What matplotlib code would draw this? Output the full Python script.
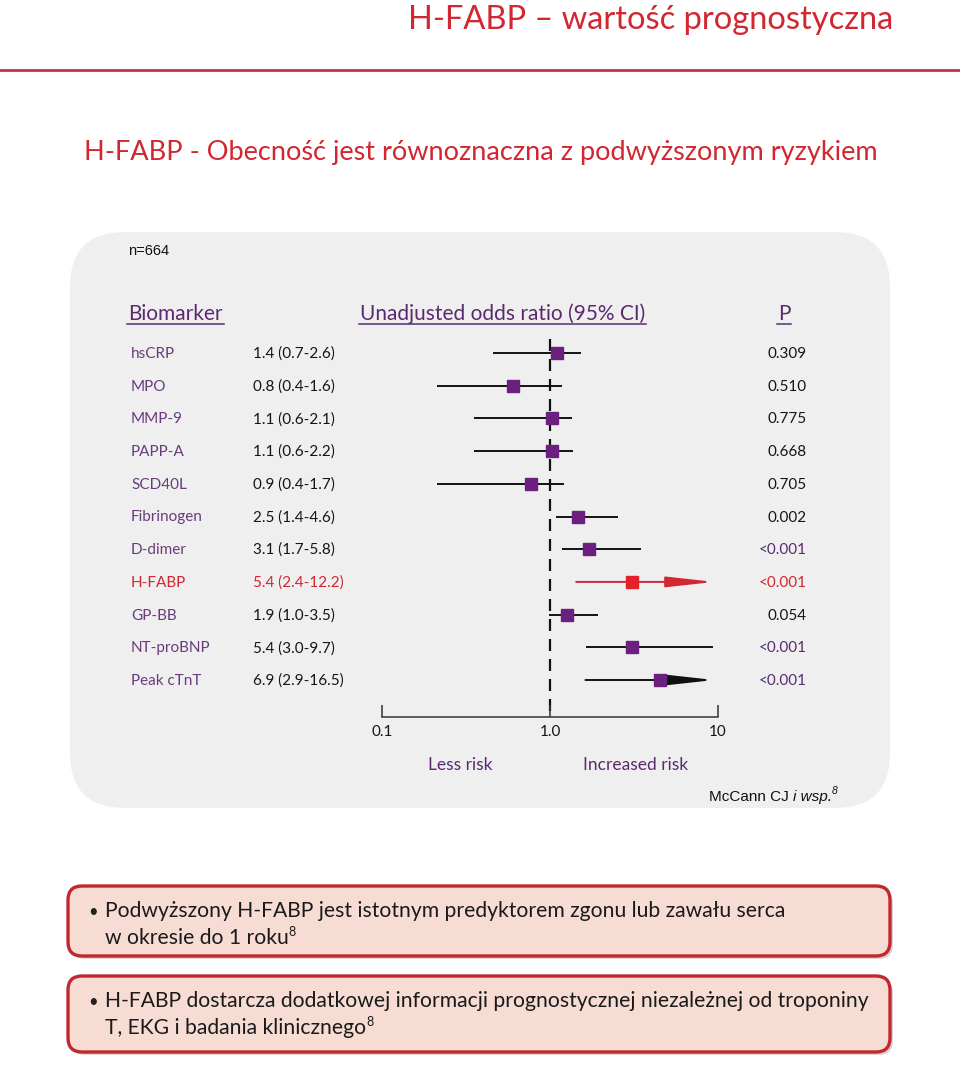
import numpy as np
import matplotlib
matplotlib.use("Agg")
import matplotlib.pyplot as plt
from matplotlib.patches import FancyBboxPatch

# data
biomarkers = ["hsCRP", "MPO", "MMP-9", "PAPP-A", "SCD40L", "Fibrinogen",
              "D-dimer", "H-FABP", "GP-BB", "NT-proBNP", "Peak cTnT"]
odds = [1.4, 0.8, 1.1, 1.1, 0.9, 2.5, 3.1, 5.4, 1.9, 5.4, 6.9]
ci_low = [0.7, 0.4, 0.6, 0.6, 0.4, 1.4, 1.7, 2.4, 1.0, 3.0, 2.9]
ci_high = [2.6, 1.6, 2.1, 2.2, 1.7, 4.6, 5.8, 12.2, 3.5, 9.7, 16.5]
p_values = ["0.309", "0.510", "0.775", "0.668", "0.705", "0.002",
            "<0.001", "<0.001", "0.054", "<0.001", "<0.001"]
highlight = "H-FABP"
x_ticks = [0.1, 1.0, 10]
x_tick_labels = ["0.1", "1.0", "10"]
n_patients = 664

RED = "#d22630"
PURPLE = "#5b2a6e"
LABEL = "#6a3b7c"
SQUARE = "#6b1f7f"
FONT = ["Lato", "DejaVu Sans"]

fig = plt.figure(figsize=(9.6, 10.69), dpi=100)
bg = fig.add_axes([0, 0, 1, 1])
bg.set_xlim(0, 960)
bg.set_ylim(1069, 0)
bg.axis("off")
r = fig.canvas.get_renderer()


def runs(x, y, parts, **kw):
    # draw text pieces one after another on a line
    for txt, extra in parts:
        opts = dict(kw)
        opts.update(extra)
        dy = opts.pop("dy", 0)
        t = bg.text(x, y + dy, txt, va="baseline", **opts)
        x += t.get_window_extent(r).width
    return x


def underlined(x, y, txt, ha="left", **kw):
    t = bg.text(x, y, txt, va="baseline", ha=ha, **kw)
    bb = t.get_window_extent(r)
    x0 = bb.x0
    bg.plot([x0 - 1, x0 + bb.width + 1], [y + 4, y + 4], color=kw.get("color"), lw=1.1)


# title + rule
bg.text(893, 29, "H-FABP – wartość prognostyczna", ha="right", va="baseline",
        color=RED, fontsize=23.5, family=FONT)
bg.plot([0, 960], [70, 70], color="#c8303c", lw=2)
bg.text(84, 160, "H-FABP - Obecność jest równoznaczna z podwyższonym ryzykiem",
        ha="left", va="baseline", color=RED, fontsize=19.5, family=FONT)

# grey panel
bg.add_patch(FancyBboxPatch((70, 232), 820, 576, boxstyle="round,pad=0,rounding_size=55",
                            fc="#efefef", ec="none"))
bg.text(128, 255, "n=%d" % n_patients, fontsize=10.5, family="Liberation Sans",
        va="baseline", color="#111111")

underlined(128, 320, "Biomarker", color=PURPLE, fontsize=15, family=FONT)
underlined(360, 320, "Unadjusted odds ratio (95% CI)", color=PURPLE, fontsize=15, family=FONT)
underlined(784, 320, "P", ha="center", color=PURPLE, fontsize=15, family=FONT)

row_y = [353 + i * 32.7 for i in range(len(biomarkers))]
for i, name in enumerate(biomarkers):
    hot = name == highlight
    y = row_y[i] + 5
    bg.text(131, y, name, color=RED if hot else LABEL, fontsize=11, family=FONT, va="baseline")
    bg.text(253, y, "%.1f (%.1f-%.1f)" % (odds[i], ci_low[i], ci_high[i]),
            color=RED if hot else "#151515", fontsize=11, family=FONT, va="baseline")
    pc = RED if hot else (PURPLE if p_values[i].startswith("<") else "#151515")
    bg.text(807, y, p_values[i], color=pc, fontsize=11, family=FONT, va="baseline", ha="right")

# forest plot axes, piecewise linear within each decade
def fwd(v):
    v = np.asarray(v, dtype=float)
    return np.where(v < 1, (v - 1) / 0.9, (v - 1) / 9.0)


def inv(v):
    v = np.asarray(v, dtype=float)
    return np.where(v < 0, 1 + 0.9 * v, 1 + 9.0 * v)


W, H = 960.0, 1069.0
ax = fig.add_axes([382 / W, 1 - 717 / H, 336 / W, (717 - 337) / H])
ax.set_facecolor("none")
ax.set_xscale("function", functions=(fwd, inv))
ax.set_xlim(0.1, 10)
top = -0.49
bottom = (717 - 353) / 32.7
ax.set_ylim(bottom, top)
for s in ["top", "left", "right"]:
    ax.spines[s].set_visible(False)
ax.spines["bottom"].set_color("#333333")
ax.spines["bottom"].set_linewidth(1.1)
ax.set_yticks([])
ax.set_xticks(x_ticks)
ax.set_xticklabels(x_tick_labels, family=FONT, fontsize=11, color="#151515")
ax.xaxis.set_minor_locator(matplotlib.ticker.NullLocator())
ax.tick_params(axis="x", direction="in", length=8.5, width=1.1, color="#333333", pad=6)

ax.vlines(1.0, top + 0.05, bottom, colors="#111111", lw=1.6, linestyles=(0, (5.4, 3.6)), zorder=1)

xmax = ax.get_xlim()[1]
for i, name in enumerate(biomarkers):
    c = RED if name == highlight else "#111111"
    mc = "#e3212b" if name == highlight else SQUARE
    if ci_high[i] > xmax:
        tip = xmax * 0.98
        ax.annotate("", xy=(tip, i), xytext=(ci_low[i], i),
                    arrowprops=dict(arrowstyle="-|>,head_length=2.9,head_width=0.32",
                                    mutation_scale=10, color=c, lw=1.4,
                                    shrinkA=0, shrinkB=0), zorder=2)
    else:
        ax.plot([ci_low[i], ci_high[i]], [i, i], color=c, lw=1.4, zorder=2)
    ax.plot(odds[i], i, marker="s", ms=8.6, color=mc, mec=mc, zorder=3)

bg.text(460, 770, "Less risk", ha="center", va="baseline", color=PURPLE, fontsize=12.5, family=FONT)
bg.text(636, 770, "Increased risk", ha="center", va="baseline", color=PURPLE, fontsize=12.5, family=FONT)

runs(709, 801, [("McCann CJ ", {}), ("i wsp.", {"style": "italic"}),
                ("8", {"fontsize": 7.5, "dy": -7, "style": "italic"})],
     fontsize=11, family="Liberation Sans", color="#111111")

# bottom boxes
boxes = [
    (886, 70, ["Podwyższony H-FABP jest istotnym predyktorem zgonu lub zawału serca",
               "w okresie do 1 roku"]),
    (976, 76, ["H-FABP dostarcza dodatkowej informacji prognostycznej niezależnej od troponiny",
               "T, EKG i badania klinicznego"]),
]
for y0, h, lines in boxes:
    bg.add_patch(FancyBboxPatch((71, y0 + 3), 822, h, boxstyle="round,pad=0,rounding_size=14",
                                fc="#bdbdbd", ec="none", alpha=0.6))
    bg.add_patch(FancyBboxPatch((68, y0), 822, h, boxstyle="round,pad=0,rounding_size=14",
                                fc="#f7dcd3", ec="#c1272d", lw=2.4))
    ty = y0 + 31
    bg.text(88, ty, "•", fontsize=12, family=FONT, color="#222222", va="baseline")
    bg.text(105, ty, lines[0], fontsize=15.2, family=FONT, color="#1a1a1a", va="baseline")
    runs(105, ty + 27, [(lines[1], {}), ("8", {"fontsize": 9, "dy": -8})],
         fontsize=15.2, family=FONT, color="#1a1a1a")

fig.savefig("out.png", dpi=100)
